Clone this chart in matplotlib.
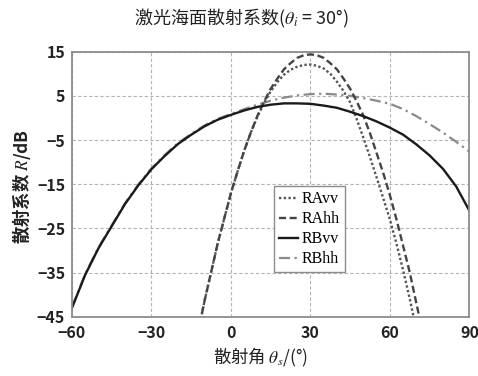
import matplotlib
matplotlib.use("Agg")
import matplotlib.pyplot as plt

plt.rcParams["font.family"] = ["Noto Sans CJK SC", "DejaVu Sans"]
plt.rcParams["mathtext.fontset"] = "stix"
plt.rcParams["axes.unicode_minus"] = True

# scattering angle (deg) for the B curves
theta_b = [-60, -55, -50, -45, -40, -35, -30, -25, -20, -15, -10, -5, 0, 5,
           10, 15, 20, 25, 30, 35, 40, 45, 50, 55, 60, 65, 70, 75, 80, 85, 90]
rbvv = [-43, -35.5, -29.5, -24.5, -19.5, -15.3, -11.6, -8.6, -5.9, -3.8, -1.9,
        -0.4, 0.7, 1.7, 2.5, 3.0, 3.3, 3.3, 3.2, 2.8, 2.3, 1.4, 0.4, -0.8,
        -2.2, -3.8, -6.0, -8.5, -11.5, -15.5, -21]
rbhh = [-42.8, -35.3, -29.3, -24.3, -19.3, -15.1, -11.4, -8.4, -5.7, -3.6,
        -1.7, -0.2, 0.9, 2.0, 3.0, 3.9, 4.6, 5.1, 5.4, 5.5, 5.3, 5.0, 4.5,
        3.9, 3.2, 2.0, 0.4, -1.4, -3.3, -5.4, -7.6]

# scattering angle (deg) for the A curves
theta_a = [-15, -10, -5, 0, 2.5, 5, 7.5, 10, 12.5, 15, 17.5, 20, 22.5, 25,
           27.5, 30, 32.5, 35, 37.5, 40, 42.5, 45, 47.5, 50, 52.5, 55, 57.5,
           60, 62.5, 65, 67.5, 70, 72.5, 75]
ravv = [-56, -41.5, -28.4, -17, -12.1, -7.4, -3.3, 0.3, 3.4, 6.0, 8.1, 9.8,
        10.9, 11.6, 12.0, 12.1, 11.8, 11.2, 10.0, 8.2, 6.1, 3.5, -0.3, -4.5,
        -8.9, -13.5, -18.2, -23, -28.5, -34.5, -41, -48, -55, -63]
rahh = [-56, -41.5, -28.4, -17, -12.1, -7.4, -3.3, 0.5, 3.7, 6.6, 8.9, 11.0,
        12.4, 13.6, 14.2, 14.4, 14.2, 13.6, 12.4, 11.0, 8.9, 6.6, 3.7, 0.5,
        -3.5, -8.0, -12.5, -17.5, -23, -29, -35, -42, -49, -57]

xticks = [-60, -30, 0, 30, 60, 90]
yticks = [15, 5, -5, -15, -25, -35, -45]

fig = plt.figure(figsize=(4.78, 3.76), dpi=100)
ax = fig.add_axes([0.1506, 0.1577, 0.8314, 0.7048])

ax.plot(theta_b, rbhh, color="#8a8a8a", lw=1.6, linestyle=(0, (5, 2, 1, 2)), label="RBhh")
ax.plot(theta_a, ravv, color="#555555", lw=1.7, linestyle=(0, (1, 1)), label="RAvv")
ax.plot(theta_a, rahh, color="#444444", lw=1.7, linestyle=(0, (3, 1.5)), label="RAhh")
ax.plot(theta_b, rbvv, color="#1a1a1a", lw=1.7, label="RBvv")

ax.set_xlim(-60, 90)
ax.set_ylim(-45, 15)
ax.set_xticks(xticks)
ax.set_yticks(yticks)
ax.tick_params(length=0, labelsize=11.5)
ax.tick_params(axis="x", pad=6)
ax.tick_params(axis="y", pad=5)
for lab in ax.get_xticklabels() + ax.get_yticklabels():
    lab.set_fontweight("bold")
    lab.set_color("#222222")
ax.grid(True, color="#b5b5b5", linestyle=(0, (3, 2)), lw=0.8)
for sp in ax.spines.values():
    sp.set_color("#8c8c8c")
    sp.set_linewidth(1.3)

handles, labels = ax.get_legend_handles_labels()
order = [labels.index(n) for n in ["RAvv", "RAhh", "RBvv", "RBhh"]]
leg = ax.legend([handles[i] for i in order], [labels[i] for i in order],
                loc="lower left", bbox_to_anchor=(0.508, 0.169), borderaxespad=0,
                prop={"family": "Liberation Serif", "size": 11.5},
                handlelength=1.2, handletextpad=0.25, labelspacing=0.25,
                borderpad=0.3, fancybox=False, framealpha=1, edgecolor="#8c8c8c")
leg.get_frame().set_linewidth(1.0)

fig.text(0.506, 0.952, r"激光海面散射系数($\theta_i$ = 30°)", ha="center", va="center",
         fontsize=13, color="#222222")
fig.text(0.546, 0.048, r"散射角 $\theta_s$/(°)", ha="center", va="center",
         fontsize=12.5, color="#222222")
fig.text(0.046, 0.505, "散射系数 $R$/dB", ha="center", va="center", rotation=90,
         fontsize=12.5, fontweight="bold", color="#222222")

fig.savefig("out.png", dpi=100)
